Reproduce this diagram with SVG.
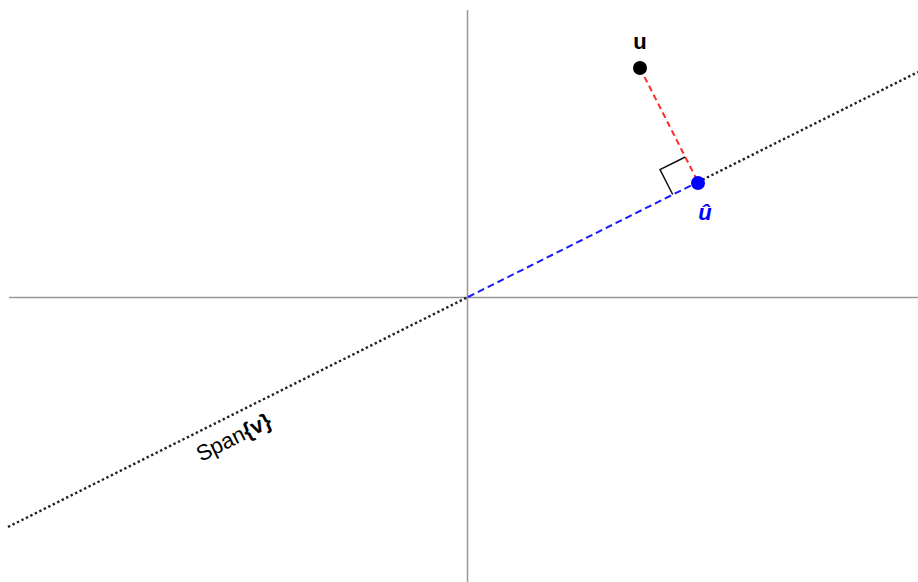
<svg xmlns="http://www.w3.org/2000/svg" width="918" height="582" viewBox="0 0 918 582">
<style>
.axis{stroke:#999;stroke-width:1.5;fill:none}
.span{stroke:#222;stroke-width:2.4;stroke-dasharray:2.4 2.6;fill:none}
.proj{stroke:#1a1aff;stroke-width:2;stroke-dasharray:7 4;fill:none}
.perp{stroke:#ff2a2a;stroke-width:2;stroke-dasharray:6 4;fill:none}
.lbl{font-family:"Liberation Sans",Arial,sans-serif;font-size:22px}
</style>
<rect width="918" height="582" fill="#fff"/>
<g id="axes">
<line class="axis" x1="9" y1="297.5" x2="918" y2="297.5"/>
<line class="axis" x1="467.5" y1="10" x2="467.5" y2="582"/>
</g>
<g id="connectors">
<line class="span" x1="8" y1="527" x2="468" y2="297"/>
<line class="span" x1="698" y1="182" x2="918" y2="72"/>
<line class="proj" x1="468" y1="297" x2="698" y2="182"/>
<line class="perp" x1="640" y1="68" x2="698" y2="182"/>
<polyline points="685.3,157 660,169.5 672.7,194.5" fill="none" stroke="#111" stroke-width="1.5"/>
</g>
<g id="u">
<circle cx="640" cy="68" r="7" fill="#000"/>
<text class="lbl" x="640" y="49" text-anchor="middle" font-weight="bold">u</text>
</g>
<g id="uhat">
<circle cx="698" cy="183" r="7" fill="#0000ff"/>
<text class="lbl" x="705" y="220" text-anchor="middle" font-weight="bold" font-style="italic" fill="#0000ff">û</text>
</g>
<g id="span-label">
<text class="lbl" transform="translate(201,462) rotate(-26.565)">Span<tspan font-weight="bold">{v}</tspan></text>
</g>
</svg>
